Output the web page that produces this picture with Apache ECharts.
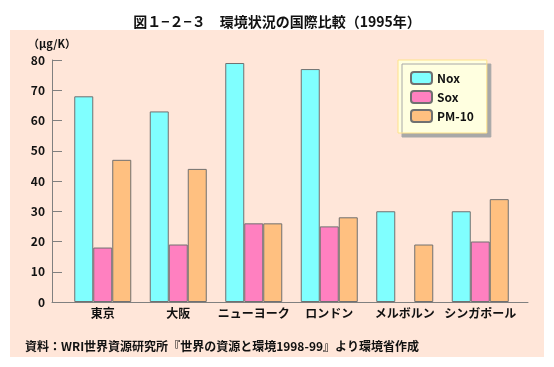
<!DOCTYPE html>
<html>
<head>
<meta charset="utf-8">
<script src="https://cdn.jsdelivr.net/npm/echarts@6/dist/echarts.min.js"></script>
<style>
html,body{margin:0;padding:0;background:#fff;}
#c{width:554px;height:367px;}
</style>
</head>
<body>
<div id="c"></div>
<script>
var categories = ['東京', '大阪', 'ニューヨーク', 'ロンドン', 'メルボルン', 'シンガポール'];
var noxValues = [68, 63, 79, 77, 30, 30];
var soxValues = [18, 19, 26, 25, null, 20];
var pm10Values = [47, 44, 26, 28, 19, 34];
var seriesNames = ['Nox', 'Sox', 'PM-10'];
var yTicks = [0, 10, 20, 30, 40, 50, 60, 70, 80];

var FONT = '"Noto Sans CJK JP", "Noto Sans", sans-serif';
var colors = ['#80FFFF', '#FF80C0', '#FFC080'];
var chart = echarts.init(document.getElementById('c'), null, {renderer: 'canvas'});

function barSeries(name, data, color) {
  return {
    name: name, type: 'bar', xAxisIndex: 1, yAxisIndex: 1,
    data: data, barWidth: 19, barGap: 0,
    itemStyle: {color: color, borderColor: '#707070', borderWidth: 1},
    emphasis: {disabled: true}, animation: false
  };
}

chart.setOption({
  animation: false,
  title: {
    text: '図１−２−３　環境状況の国際比較（1995年）',
    left: 'center', top: 9,
    textStyle: {fontFamily: FONT, fontSize: 14, fontWeight: 'bold', color: '#111', lineHeight: 16}
  },
  graphic: [{
    type: 'rect', z: -10, silent: true,
    shape: {x: 10, y: 30, width: 534, height: 327},
    style: {fill: '#FFE6D9'}
  }, {
    type: 'text', left: 25, top: 340, silent: true,
    style: {text: '資料：WRI世界資源研究所『世界の資源と環境1998-99』より環境省作成',
      font: 'bold 12px ' + FONT, fill: '#111'}
  }],
  legend: {
    data: seriesNames,
    orient: 'vertical', left: 398, top: 60,
    itemWidth: 21, itemHeight: 12, itemGap: 5,
    padding: [11, 13, 10, 12],
    backgroundColor: '#FFFFE0', borderColor: '#FFE28A', borderWidth: 1,
    shadowColor: '#A8A8A8', shadowBlur: 0, shadowOffsetX: 4, shadowOffsetY: 4,
    textStyle: {fontFamily: FONT, fontSize: 12, fontWeight: 'bold', color: '#111'},
    selectedMode: false
  },
  grid: [
    {left: 52, right: 26, top: 60, bottom: 65},
    {left: 65, right: 36, top: 60, bottom: 65}
  ],
  xAxis: [{
    gridIndex: 0, type: 'value', min: 0, max: 1,
    axisLine: {show: true, lineStyle: {color: '#808080', width: 1}},
    axisTick: {show: false}, axisLabel: {show: false}, splitLine: {show: false}
  }, {
    gridIndex: 1, type: 'category', data: categories,
    axisLine: {show: false}, axisTick: {show: false},
    axisLabel: {interval: 0, margin: 5, fontFamily: FONT, fontSize: 12, fontWeight: 'bold', color: '#111'}
  }],
  yAxis: [{
    gridIndex: 0, type: 'value', min: 0, max: 80, interval: 10,
    name: '（μg/K）', nameLocation: 'end', nameGap: 11,
    nameTextStyle: {fontFamily: FONT, fontSize: 11, fontWeight: 'bold', color: '#111', align: 'center'},
    axisLine: {show: true, lineStyle: {color: '#808080', width: 1}},
    axisTick: {show: true, inside: true, length: 10, lineStyle: {color: '#808080'}},
    axisLabel: {margin: 7, fontFamily: FONT, fontSize: 12, fontWeight: 'bold', color: '#111',
      formatter: function (v) { return yTicks.indexOf(v) >= 0 ? String(v) : ''; }},
    splitLine: {show: false}
  }, {
    gridIndex: 1, type: 'value', min: 0, max: 80, interval: 10, show: false,
    splitLine: {show: false}
  }],
  series: [
    barSeries(seriesNames[0], noxValues, colors[0]),
    barSeries(seriesNames[1], soxValues, colors[1]),
    barSeries(seriesNames[2], pm10Values, colors[2])
  ]
});
</script>
</body>
</html>
